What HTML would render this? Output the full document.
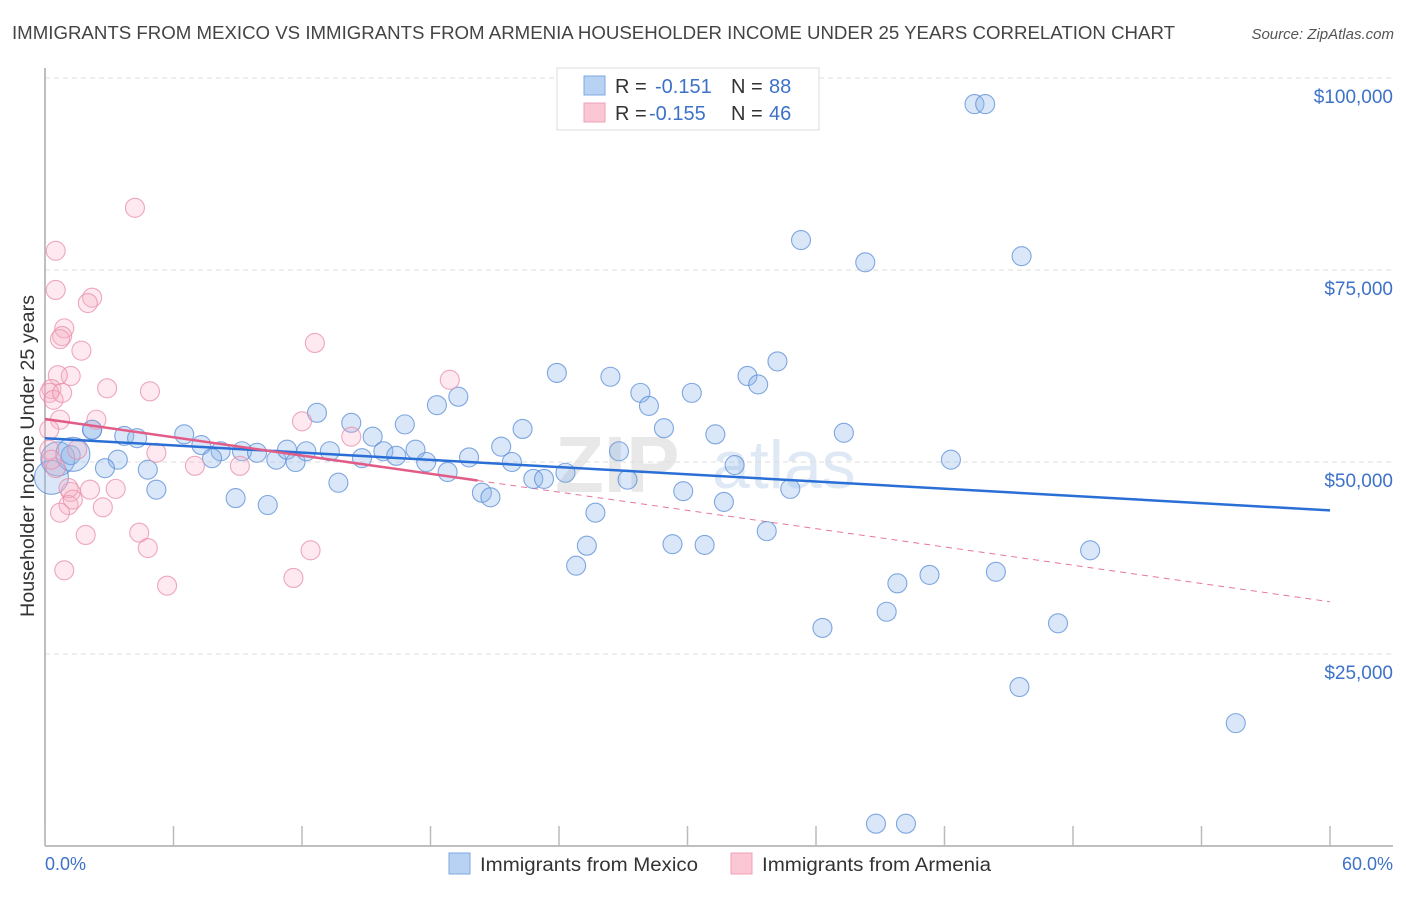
<!DOCTYPE html>
<html><head><meta charset="utf-8"><style>
body{margin:0;background:#fff;font-family:"Liberation Sans",sans-serif}
svg text{font-family:"Liberation Sans",sans-serif}
</style></head><body>
<svg id="chart" width="1406" height="892" viewBox="0 0 1406 892" xmlns="http://www.w3.org/2000/svg">
<text x="12" y="39" font-size="18" fill="#444" textLength="1163" lengthAdjust="spacingAndGlyphs">IMMIGRANTS FROM MEXICO VS IMMIGRANTS FROM ARMENIA HOUSEHOLDER INCOME UNDER 25 YEARS CORRELATION CHART</text>
<text x="1394" y="39" font-size="15" fill="#555" text-anchor="end" font-style="italic">Source: ZipAtlas.com</text>
<g><text x="555" y="492" font-size="80" fill="#e8e8e8" font-family="Liberation Serif" font-weight="bold">ZIP</text><text x="712" y="488" font-size="68" fill="#dfe9f5">atlas</text></g>
<g id="grid"></g>
<g id="axes"></g>
<g id="trends"></g>
<g id="pts"></g>
<text transform="translate(34,456) rotate(-90)" font-size="19" fill="#333" text-anchor="middle" textLength="322" lengthAdjust="spacingAndGlyphs">Householder Income Under 25 years</text>
<text x="45" y="870" font-size="18" fill="#3d72c8">0.0%</text>
<text x="1393" y="870" font-size="18" fill="#3d72c8" text-anchor="end">60.0%</text>
<g>
<rect x="557" y="68" width="262" height="62" fill="#fff" stroke="#ddd"/>
<rect x="584" y="76" width="21" height="19" fill="#b8d2f3" stroke="#7ea8e0"/>
<rect x="584" y="103" width="21" height="19" fill="#fcc7d5" stroke="#eda0b7"/>
<text x="615" y="93" font-size="20" fill="#333">R = </text><text x="655" y="93" font-size="20" fill="#3d72c8">-0.151</text>
<text x="731" y="93" font-size="20" fill="#333">N = </text><text x="769" y="93" font-size="20" fill="#3d72c8">88</text>
<text x="615" y="120" font-size="20" fill="#333">R = </text><text x="649" y="120" font-size="20" fill="#3d72c8">-0.155</text>
<text x="731" y="120" font-size="20" fill="#333">N = </text><text x="769" y="120" font-size="20" fill="#3d72c8">46</text>
</g>
<g><rect x="449" y="853" width="21" height="21" fill="#b8d2f3" stroke="#7ea8e0"/><text x="480" y="871" font-size="19" fill="#333" textLength="218" lengthAdjust="spacingAndGlyphs">Immigrants from Mexico</text></g>
<g><rect x="731" y="853" width="21" height="21" fill="#fcc7d5" stroke="#eda0b7"/><text x="762" y="871" font-size="19" fill="#333" textLength="229" lengthAdjust="spacingAndGlyphs">Immigrants from Armenia</text></g>
</svg>
<script>
const yTicks=[25000,50000,75000,100000];
const yTickLabels=["$25,000","$50,000","$75,000","$100,000"];
const xTicks=[0,6,12,18,24,30,36,42,48,54,60];
const mexX=[43.4,43.9,35.3,38.3,45.6,34.2,32.8,33.3,23.9,26.4,27.8,28.2,30.2,19.3,18.3,12.7,16.8,14.3,15.3,22.3,28.9,31.3,37.3,6.5,3.7,4.3,2.2,0.6,1.2,3.4,2.8,4.8,7.3,8.2,7.8,9.2,9.9,10.8,11.3,11.7,12.2,13.3,14.8,15.8,16.4,17.3,17.8,19.8,21.3,21.8,18.8,22.8,23.3,24.3,26.8,27.2,32.2,42.3,5.2,8.9,10.4,13.7,20.4,20.8,25.7,29.8,31.7,34.8,25.3,24.8,29.3,30.8,33.7,48.8,36.3,39.3,39.8,41.3,44.4,47.3,45.5,55.6,38.8,40.2,0.3,1.3,2.2];
const mexY=[96600,96600,78900,76000,76800,63100,61200,60100,61600,61100,59000,57300,59000,58500,57400,56400,54900,55100,53300,54300,54400,53600,53800,53600,53400,53100,54200,50400,50900,50300,49200,49000,52200,51400,50500,51400,51200,50300,51600,50000,51400,51400,50500,51400,50800,51600,50000,50600,52000,50000,48700,47800,47800,48600,51400,47700,49600,50300,46400,45300,44400,47300,46000,45400,43400,46200,44800,46500,39100,36500,39300,39200,41000,38500,28400,30500,34200,35300,35700,29000,20700,16000,2900,2900,48000,51000,54200];
const mexW=[1,1,1,1,1,1,1,1,1,1,1,1,1,1,1,1,1,1,1,1,1,1,1,1,1,1,1,2,1,1,1,1,1,1,1,1,1,1,1,1,1,1,1,1,1,1,1,1,1,1,1,1,1,1,1,1,1,1,1,1,1,1,1,1,1,1,1,1,1,1,1,1,1,1,1,1,1,1,1,1,1,1,1,1,2,2,1];
const armX=[4.2,0.5,0.5,2.2,2.0,0.9,0.8,0.7,1.7,12.6,1.2,0.6,2.9,4.9,18.9,0.3,0.2,0.4,0.8,0.7,2.4,12.0,14.3,0.2,1.5,0.2,5.2,9.1,7.0,0.5,1.2,1.1,2.1,3.3,1.1,2.7,1.3,0.7,1.9,4.4,4.8,12.4,0.9,11.6,5.7,0.3];
const armY=[83100,77500,72400,71400,70700,67400,66400,66000,64500,65500,61200,61300,59600,59200,60700,59500,59000,58100,59000,55500,55500,55300,53300,54200,51600,51600,51200,49500,49500,49200,46100,46600,46400,46500,44400,44100,45100,43400,40500,40800,38800,38500,35900,34900,33900,50300];
const mexTrend=[53100,43700];
const armTrend=[55600,31800];
const armSolidEnd=20.2;

const X0=45,X1=1330,Y0=846,PPV=192/25000;
const sx=p=>X0+(p/60)*(X1-X0);
const sy=v=>Y0-v*PPV;
const NS="http://www.w3.org/2000/svg";
function mk(tag,attrs,parent){const e=document.createElementNS(NS,tag);for(const k in attrs)e.setAttribute(k,attrs[k]);parent.appendChild(e);return e;}
const grid=document.getElementById('grid'),axes=document.getElementById('axes');
yTicks.forEach((t,i)=>{
  const l=mk('line',{x1:X0,x2:1393,y1:sy(t),y2:sy(t),stroke:'#ddd','stroke-dasharray':'5,4'},grid);
  
  
  const tx=mk('text',{x:1393,y:sy(t)+25,'font-size':19,fill:'#3d72c8','text-anchor':'end'},axes);
  tx.textContent=yTickLabels[i];
  
  
});
const yl=mk('line',{x1:X0,x2:X0,y1:68,y2:846,stroke:'#aaa','stroke-width':1.5},axes);


const xl=mk('line',{x1:X0,x2:1393,y1:846,y2:846,stroke:'#aaa','stroke-width':1.5},axes);


xTicks.forEach(t=>{
  const l=mk('line',{x1:sx(t),x2:sx(t),y1:826,y2:846,stroke:'#bbb','stroke-width':1.5},axes);
  
  
});
const tr=document.getElementById('trends');
const armYat=p=>armTrend[0]+(armTrend[1]-armTrend[0])*p/60;
const ad=mk('line',{x1:sx(armSolidEnd),y1:sy(armYat(armSolidEnd)),x2:sx(60),y2:sy(armTrend[1]),stroke:'#e8779a','stroke-width':1,'stroke-dasharray':'6,5'},tr);


const pts=document.getElementById('pts');
mexX.forEach((x,i)=>{
  const c=mk('circle',{cx:sx(x),cy:sy(mexY[i]),r:mexW[i]>1?17:9.5,fill:'rgba(140,182,235,0.33)',stroke:'rgba(90,140,215,0.75)','stroke-width':1.1},pts);
  
  
});
armX.forEach((x,i)=>{
  const c=mk('circle',{cx:sx(x),cy:sy(armY[i]),r:9.5,fill:'rgba(247,175,198,0.28)',stroke:'rgba(232,140,170,0.75)','stroke-width':1.1},pts);
  
  
});
const bl=mk('line',{x1:sx(0),y1:sy(mexTrend[0]),x2:sx(60),y2:sy(mexTrend[1]),stroke:'#2a6fd6','stroke-width':2.5},pts);


const pl=mk('line',{x1:sx(0),y1:sy(armTrend[0]),x2:sx(armSolidEnd),y2:sy(armYat(armSolidEnd)),stroke:'#e25c88','stroke-width':2.5},pts);


</script>
</body></html>
